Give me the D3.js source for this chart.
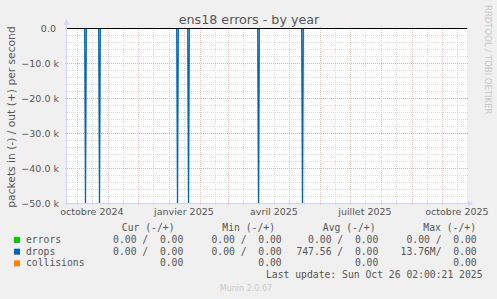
<!DOCTYPE html>
<html>
<head>
<meta charset="utf-8">
<script src="https://d3js.org/d3.v7.min.js"></script>
<style>
  body { margin: 0; background: #F0F0F0; }
  text { font-family: "DejaVu Sans", sans-serif; fill: #555; }
  .mono { font-family: "DejaVu Sans Mono", monospace; font-size: 9.72px; white-space: pre; }
</style>
</head>
<body>
<svg id="vis"></svg>
<script>
  var width = 497, height = 299
  var plotLeft = 67, plotRight = 467, plotTop = 28, plotBottom = 203

  // time range of the year view (400 days ending at last update)
  var endTime = new Date(Date.UTC(2025, 9, 26, 1, 0))
  var startTime = new Date(endTime.getTime() - 400 * 86400000)

  // drops spikes (packets in, drawn negative)
  var spikeDates = ['2024-10-09', '2024-10-23', '2025-01-09', '2025-01-20', '2025-03-31', '2025-05-14']
  var spikeValues = [50600, 50400, 50900, 50300, 50500, 50400]

  var yTicks = [0, -10000, -20000, -30000, -40000, -50000]
  var xLabelMonths = ['2024-10-01', '2025-01-01', '2025-04-01', '2025-07-01', '2025-10-01']
  var xLabels = ['octobre 2024', 'janvier 2025', 'avril 2025', 'juillet 2025', 'octobre 2025']

  var seriesNames = ['errors', 'drops', 'collisions']
  var seriesColors = ['#00CC00', '#0066B3', '#FF8000']
  var curVals = ['0.00 /  0.00', '0.00 /  0.00', '0.00']
  var minVals = ['0.00 /  0.00', '0.00 /  0.00', '0.00']
  var avgVals = ['0.00 /  0.00', '747.56 /  0.00', '0.00']
  var maxVals = ['0.00 /  0.00', '13.76M/  0.00', '0.00']
  var headers = ['Cur (-/+)', 'Min (-/+)', 'Avg (-/+)', 'Max (-/+)']

  var svg = d3.select('#vis')
    .attr('width', width)
    .attr('height', height)

  var x = d3.scaleUtc().domain([startTime, endTime]).range([plotLeft, plotRight])
  var y = d3.scaleLinear().domain([-50000, 0]).range([plotBottom, plotTop])
  var px = d => Math.round(x(d)) + 0.5

  svg.append('rect')
    .attr('x', plotLeft).attr('y', plotTop)
    .attr('width', plotRight - plotLeft).attr('height', plotBottom - plotTop)
    .attr('fill', '#fff')

  // grid
  var minorY = d3.range(0, -50001, -2000).filter(d => d % 10000 != 0)
  svg.selectAll('.hminor').data(minorY).enter().append('line')
    .attr('x1', plotLeft - 2).attr('x2', plotRight + 2)
    .attr('y1', d => Math.round(y(d)) + 0.5).attr('y2', d => Math.round(y(d)) + 0.5)
    .attr('stroke', '#dcdcdc').attr('stroke-dasharray', '1,1')

  var monthStarts = d3.utcMonth.range(startTime, endTime)
  var midMonths = d3.utcMonth.range(d3.utcMonth.floor(startTime), endTime)
    .map(d => d3.utcDay.offset(d, 15))
    .filter(d => d > startTime && d < endTime)
  svg.selectAll('.vminor').data(midMonths).enter().append('line')
    .attr('x1', px).attr('x2', px)
    .attr('y1', plotTop - 2).attr('y2', plotBottom + 2)
    .attr('stroke', '#dcdcdc').attr('stroke-dasharray', '1,1')

  svg.selectAll('.hmajor').data(yTicks).enter().append('line')
    .attr('x1', plotLeft - 2).attr('x2', plotRight + 2)
    .attr('y1', d => Math.round(y(d)) + 0.5).attr('y2', d => Math.round(y(d)) + 0.5)
    .attr('stroke', '#eeaaaa').attr('stroke-dasharray', '1,1')

  svg.selectAll('.vmajor').data(monthStarts).enter().append('line')
    .attr('x1', px).attr('x2', px)
    .attr('y1', plotTop - 2).attr('y2', plotBottom + 2)
    .attr('stroke', '#f2c4c4').attr('stroke-dasharray', '1,1')

  // data
  svg.append('clipPath').attr('id', 'clip').append('rect')
    .attr('x', plotLeft).attr('y', plotTop)
    .attr('width', plotRight - plotLeft).attr('height', plotBottom - plotTop)

  var dropPoints = [[startTime, 0, 0]]
  spikeDates.forEach(function(s, i) {
    var d = new Date(s + 'T00:00:00Z')
    dropPoints.push([d, 0, -0.8])
    dropPoints.push([d, -spikeValues[i], 0])
    dropPoints.push([d, 0, 0.8])
  })
  dropPoints.push([endTime, 0, 0])

  var line = d3.line().x(d => px(d[0]) + (d[2] || 0)).y(d => y(d[1]))
  var zeroLine = [[startTime, 0], [endTime, 0]]

  var g = svg.append('g').attr('clip-path', 'url(#clip)')
  g.append('path').attr('d', line(zeroLine)).attr('fill', 'none')
    .attr('stroke', seriesColors[0]).attr('stroke-width', 1)
  g.append('path').attr('d', line(dropPoints)).attr('fill', 'none')
    .attr('stroke', seriesColors[1]).attr('stroke-width', 1.3)
  g.append('path').attr('d', line(zeroLine)).attr('fill', 'none')
    .attr('stroke', seriesColors[2]).attr('stroke-width', 1)

  // HRULE at zero
  svg.append('line')
    .attr('x1', plotLeft).attr('x2', plotRight)
    .attr('y1', y(0) + 0.5).attr('y2', y(0) + 0.5)
    .attr('stroke', '#000')

  // axes
  svg.append('line')
    .attr('x1', plotLeft - 0.5).attr('x2', plotLeft - 0.5)
    .attr('y1', plotBottom + 2).attr('y2', plotTop - 4)
    .attr('stroke', '#CFD6F8')
  svg.append('line')
    .attr('x1', plotLeft - 2).attr('x2', plotRight + 2)
    .attr('y1', plotBottom + 0.5).attr('y2', plotBottom + 0.5)
    .attr('stroke', '#CFD6F8')
  svg.append('path')
    .attr('d', d3.line()([[plotLeft - 3.5, plotTop - 3], [plotLeft + 2.5, plotTop - 3], [plotLeft - 0.5, plotTop - 9]]) + 'Z')
    .attr('fill', '#CFD6F8')
  svg.append('path')
    .attr('d', d3.line()([[plotRight + 1, plotBottom - 2.5], [plotRight + 1, plotBottom + 3.5], [plotRight + 6, plotBottom + 0.5]]) + 'Z')
    .attr('fill', '#CFD6F8')

  // tick labels
  svg.selectAll('.ylab').data(yTicks).enter().append('text')
    .attr('x', 59).attr('y', d => y(d) + 3.5)
    .attr('text-anchor', 'end')
    .style('font-size', '9.5px').style('white-space', 'pre')
    .text(d => d == 0 ? '0.0 ' : d3.format('.1f')(d / 1000) + ' k')

  svg.selectAll('.xlab').data(xLabelMonths).enter().append('text')
    .attr('x', d => x(d3.utcDay.offset(new Date(d + 'T00:00:00Z'), 15)))
    .attr('y', 214.5)
    .attr('text-anchor', 'middle')
    .style('font-size', '9.5px')
    .text((d, i) => xLabels[i])

  // titles
  svg.append('text')
    .attr('x', 249).attr('y', 24)
    .attr('text-anchor', 'middle')
    .style('font-size', '12.7px')
    .text('ens18 errors - by year')

  svg.append('text')
    .attr('transform', 'translate(15,117) rotate(-90)')
    .attr('text-anchor', 'middle')
    .style('font-size', '10.7px')
    .text('packets in (-) / out (+) per second')

  svg.append('text')
    .attr('transform', 'translate(485,5) rotate(90)')
    .style('font-size', '8.5px').style('fill', '#c8c8c8')
    .text('RRDTOOL / TOBI OETIKER')

  svg.append('text')
    .attr('x', 246).attr('y', 291)
    .attr('text-anchor', 'middle')
    .style('font-size', '8px').style('fill', '#c8c8c8')
    .text('Munin 2.0.67')

  // legend
  var headerEnds = [174.5, 275, 375.5, 476]
  var valueEnds = [183.3, 281.7, 378.3, 476.7]
  var rowY = [243, 254.7, 266.4]

  svg.selectAll('.hdr').data(headers).enter().append('text')
    .attr('class', 'mono')
    .attr('x', (d, i) => headerEnds[i]).attr('y', 231.3)
    .attr('text-anchor', 'end')
    .text(d => d)

  seriesNames.forEach(function(name, i) {
    svg.append('rect')
      .attr('x', 14).attr('y', rowY[i] - 6)
      .attr('width', 6).attr('height', 6)
      .attr('fill', seriesColors[i])
    svg.append('text').attr('class', 'mono')
      .attr('x', 26).attr('y', rowY[i])
      .text(name)
    var vals = [curVals[i], minVals[i], avgVals[i], maxVals[i]]
    vals.forEach(function(v, j) {
      svg.append('text').attr('class', 'mono')
        .attr('x', valueEnds[j]).attr('y', rowY[i])
        .attr('text-anchor', 'end')
        .text(v)
    })
  })

  svg.append('text').attr('class', 'mono')
    .attr('x', 482.5).attr('y', 278.2)
    .attr('text-anchor', 'end')
    .text('Last update: Sun Oct 26 02:00:21 2025')
</script>
</body>
</html>
